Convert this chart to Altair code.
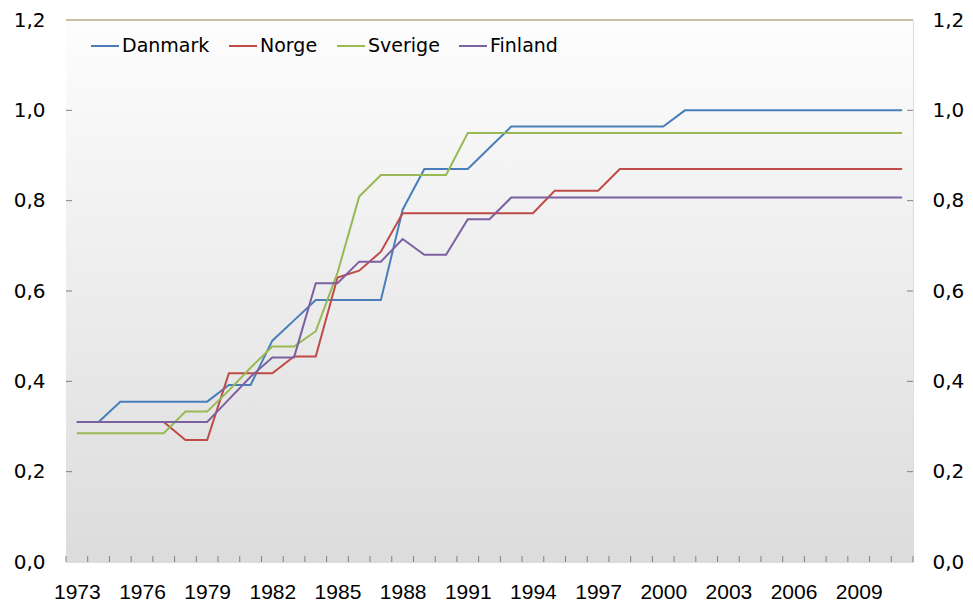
import altair as alt
import pandas as pd

years = list(range(1973, 2012))
countries = ["Danmark", "Norge", "Sverige", "Finland"]
colors = ["#4a7ebb", "#be4b48", "#98b954", "#7d60a0"]

danmark = [0.31, 0.31, 0.355, 0.355, 0.355, 0.355, 0.355, 0.392, 0.392, 0.49,
           0.535, 0.58, 0.58, 0.58, 0.58, 0.78, 0.87, 0.87, 0.87, 0.917,
           0.964, 0.964, 0.964, 0.964, 0.964, 0.964, 0.964, 0.964,
           1.0, 1.0, 1.0, 1.0, 1.0, 1.0, 1.0, 1.0, 1.0, 1.0, 1.0]
norge = [0.31, 0.31, 0.31, 0.31, 0.31, 0.27, 0.27, 0.418, 0.418, 0.418,
         0.455, 0.455, 0.63, 0.645, 0.687, 0.772, 0.772, 0.772, 0.772, 0.772,
         0.772, 0.772, 0.822, 0.822, 0.822,
         0.87, 0.87, 0.87, 0.87, 0.87, 0.87, 0.87, 0.87, 0.87, 0.87, 0.87, 0.87, 0.87, 0.87]
sverige = [0.285, 0.285, 0.285, 0.285, 0.285, 0.333, 0.333, 0.38, 0.43, 0.477,
           0.477, 0.511, 0.64, 0.809, 0.857, 0.857, 0.857, 0.857,
           0.95, 0.95, 0.95, 0.95, 0.95, 0.95, 0.95, 0.95, 0.95, 0.95, 0.95,
           0.95, 0.95, 0.95, 0.95, 0.95, 0.95, 0.95, 0.95, 0.95, 0.95]
finland = [0.31, 0.31, 0.31, 0.31, 0.31, 0.31, 0.31, 0.36, 0.41, 0.453,
           0.453, 0.617, 0.617, 0.665, 0.665, 0.715, 0.68, 0.68, 0.759, 0.759,
           0.807, 0.807, 0.807, 0.807, 0.807, 0.807, 0.807, 0.807, 0.807, 0.807,
           0.807, 0.807, 0.807, 0.807, 0.807, 0.807, 0.807, 0.807, 0.807]

x_labels = list(range(1973, 2010, 3))
y_ticks = [0.0, 0.2, 0.4, 0.6, 0.8, 1.0, 1.2]
boundaries = [y - 0.5 for y in range(1973, 2013)]

series = {"Danmark": danmark, "Norge": norge, "Sverige": sverige, "Finland": finland}
rows = []
for c in countries:
    for yr, v in zip(years, series[c]):
        rows.append({"year": yr, "land": c, "value": v})
df = pd.DataFrame(rows)

W, H = 847, 542
xscale = alt.Scale(domain=[1972.5, 2011.5], nice=False, zero=False)
yscale = alt.Scale(domain=[0, 1.2], nice=False)

xaxis = alt.Axis(values=x_labels, title=None, ticks=False, domain=False,
                 grid=False, labelFont="Liberation Sans", labelFontSize=21,
                 labelColor="#000000", labelPadding=19, format="d",
                 labelFlush=False)

grad = alt.Gradient(
    gradient="linear",
    stops=[alt.GradientStop(color="#fdfdfd", offset=0),
           alt.GradientStop(color="#dcdcdc", offset=1)],
    x1=0, x2=0, y1=0, y2=1,
)

bg = alt.Chart(pd.DataFrame({"a": [0]})).mark_rect(color=grad).encode(
    x=alt.value(0), x2=alt.value(W), y=alt.value(0), y2=alt.value(H)
)

top_border = alt.Chart(pd.DataFrame({"a": [0]})).mark_rule(
    color="#b8ad85", strokeWidth=1.5).encode(
    x=alt.value(0), x2=alt.value(W), y=alt.value(0)
)

lines = alt.Chart(df).mark_line(strokeWidth=2).encode(
    x=alt.X("year:Q", scale=xscale, axis=xaxis),
    y=alt.Y("value:Q", scale=yscale,
            axis=alt.Axis(values=y_ticks, title=None, ticks=False, domain=False,
                          grid=False, labelFont="DejaVu Sans", labelFontSize=20,
                          labelColor="#000000", labelPadding=21,
                          labelExpr="replace(format(datum.value, '.1f'), '.', ',')")),
    color=alt.Color("land:N", sort=countries,
                    scale=alt.Scale(domain=countries, range=colors),
                    legend=alt.Legend(title=None, orient="none", legendX=24, legendY=11,
                                      direction="horizontal", symbolType="stroke",
                                      symbolSize=784, symbolStrokeWidth=2,
                                      labelFont="DejaVu Sans", labelFontSize=19,
                                      labelColor="#000000", labelOffset=2,
                                      columnPadding=15)),
)

right_axis = alt.Chart(pd.DataFrame({"v": y_ticks})).mark_point(opacity=0).encode(
    y=alt.Y("v:Q", scale=yscale,
            axis=alt.Axis(orient="right", values=y_ticks, title=None, ticks=False,
                          domain=False, grid=False, labelFont="DejaVu Sans",
                          labelFontSize=20, labelColor="#000000", labelPadding=19,
                          labelExpr="replace(format(datum.value, '.1f'), '.', ',')")),
)

ytick_df = pd.DataFrame({"v": y_ticks[1:-1]})
left_ticks = alt.Chart(ytick_df).mark_rule(color="#808080", strokeWidth=1).encode(
    y=alt.Y("v:Q", scale=yscale, axis=None), x=alt.value(0), x2=alt.value(6)
)
right_ticks = alt.Chart(ytick_df).mark_rule(color="#808080", strokeWidth=1).encode(
    y=alt.Y("v:Q", scale=yscale, axis=None), x=alt.value(W - 6), x2=alt.value(W)
)
bottom_ticks = alt.Chart(pd.DataFrame({"year": boundaries})).mark_rule(
    color="#808080", strokeWidth=1).encode(
    x=alt.X("year:Q", scale=xscale, axis=xaxis), y=alt.value(H - 6), y2=alt.value(H)
)

chart = alt.layer(bg, left_ticks, right_ticks, bottom_ticks, lines, right_axis,
                  top_border).resolve_scale(
    y="shared"
).resolve_axis(y="independent").properties(
    width=W, height=H,
    autosize=alt.AutoSizeParams(type="none"),
    padding={"left": 58, "top": 12, "right": 52, "bottom": 40},
).configure_view(stroke="#8c8c8c", strokeWidth=1.5).configure(background="#ffffff")

chart.save("out.html", embed_options={"renderer": "svg", "actions": False})
